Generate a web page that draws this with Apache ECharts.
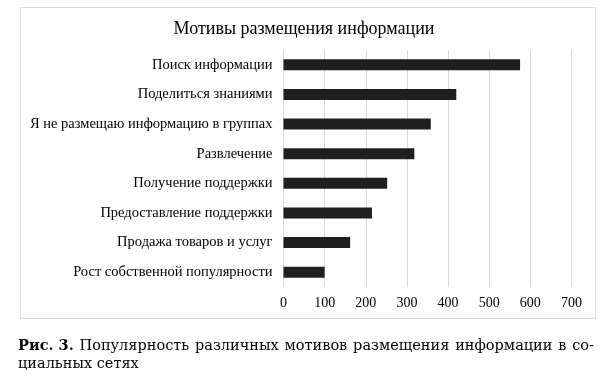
<!DOCTYPE html>
<html>
<head>
<meta charset="utf-8">
<script src="https://cdn.jsdelivr.net/npm/echarts@6/dist/echarts.min.js"></script>
<style>
html,body{margin:0;padding:0;background:#fff;}
#c{width:608px;height:375px;}
</style>
</head>
<body>
<div id="c"></div>
<script>
const categories = [
  "Поиск информации",
  "Поделиться знаниями",
  "Я не размещаю информацию в группах",
  "Развлечение",
  "Получение поддержки",
  "Предоставление поддержки",
  "Продажа товаров и услуг",
  "Рост собственной популярности"
];
const values = [575, 420, 358, 318, 252, 215, 162, 100];
const chartTitle = "Мотивы размещения информации";
const captionBold = "Рис. 3.";
const captionLine1 = "Популярность различных мотивов размещения информации в со-";
const captionLine2 = "циальных сетях";

const FONT = "'Liberation Serif', 'Times New Roman', serif";
const CAP_FONT_FAMILY = "'DejaVu Serif', serif";

// Justify the first caption line between left and right edges
const capLeft = 18, capRight = 594;
const capFont = '14.5px ' + CAP_FONT_FAMILY, capBoldFont = 'bold 14.5px ' + CAP_FONT_FAMILY;
const ctx = document.createElement('canvas').getContext('2d');
const words = [{t: captionBold, bold: true}].concat(captionLine1.split(' ').map(w => ({t: w, bold: false})));
let total = 0;
words.forEach(w => { ctx.font = w.bold ? capBoldFont : capFont; w.w = ctx.measureText(w.t).width; total += w.w; });
const gap = (capRight - capLeft - total) / (words.length - 1);
let cx = capLeft;
const captionGraphics = words.map(w => {
  const g = {
    type: 'text', x: cx, y: 339,
    style: {text: w.t, font: w.bold ? capBoldFont : capFont, fill: '#000'}
  };
  cx += w.w + gap;
  return g;
});

const chart = echarts.init(document.getElementById('c'), null, {renderer: 'canvas'});
chart.setOption({
  animation: false,
  backgroundColor: '#fff',
  title: {
    text: chartTitle,
    left: 'center',
    top: 15,
    textStyle: {fontFamily: FONT, fontSize: 18, fontWeight: 'normal', color: '#000'}
  },
  grid: {left: 283.5, right: 36.5, top: 50, bottom: 88, containLabel: false},
  xAxis: {
    type: 'value',
    min: 0, max: 700, interval: 100,
    axisLine: {show: false},
    axisTick: {show: false},
    splitLine: {show: true, lineStyle: {color: '#d9d9d9', width: 1}},
    axisLabel: {fontFamily: FONT, fontSize: 14, color: '#000', margin: 9}
  },
  yAxis: {
    type: 'category',
    data: categories,
    inverse: true,
    axisLine: {show: false},
    axisTick: {show: false},
    axisLabel: {fontFamily: FONT, fontSize: 14.5, color: '#000', margin: 11}
  },
  series: [{
    type: 'bar',
    data: values,
    barWidth: 11,
    itemStyle: {color: '#1f1f1f'}
  }],
  graphic: [
    {
      type: 'rect',
      shape: {x: 20.5, y: 7.5, width: 575, height: 311},
      style: {fill: 'none', stroke: '#d9d9d9', lineWidth: 1},
      silent: true
    },
    {
      type: 'text',
      x: 18, y: 357,
      style: {text: captionLine2, font: capFont, fill: '#000'}
    }
  ].concat(captionGraphics)
});
</script>
</body>
</html>
